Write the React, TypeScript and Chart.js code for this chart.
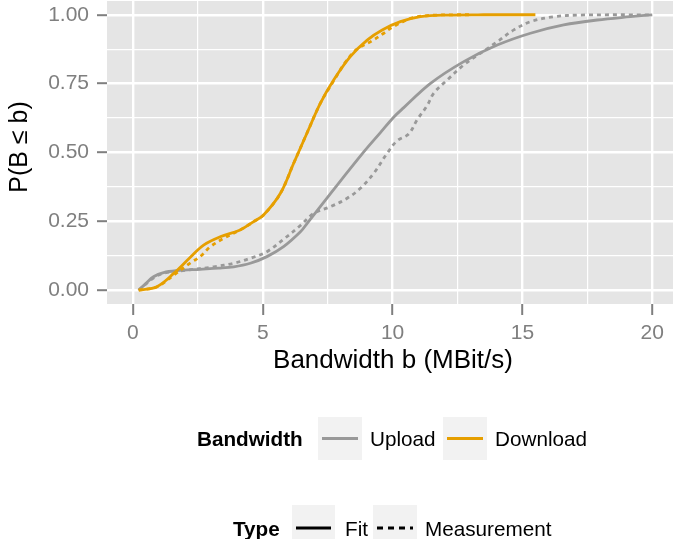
import React, { useEffect, useRef } from "react";
import { Chart, registerables } from "chart.js";
Chart.register(...registerables);

// ---- data ----
const uploadFitX = [0.22, 0.5, 0.79, 1.18, 1.7, 2.59, 3.3, 3.88, 4.52, 5.16, 5.8, 6.45, 6.71, 7.6, 8.89, 9.53, 10.04, 10.43, 11.46, 12.74, 14.03, 15.31, 16.59, 17.88, 19.16, 20.0];
const uploadFitY = [0, 0.025, 0.049, 0.064, 0.071, 0.076, 0.08, 0.085, 0.098, 0.122, 0.158, 0.212, 0.243, 0.35, 0.502, 0.572, 0.628, 0.663, 0.751, 0.83, 0.89, 0.933, 0.963, 0.981, 0.993, 1.0];

const uploadMeasX = [0.22, 0.8, 1.2, 2.0, 3.11, 3.88, 4.52, 5.16, 5.8, 6.45, 6.96, 7.6, 8.25, 8.76, 9.27, 9.79, 10.17, 10.62, 10.94, 11.33, 11.58, 12.1, 12.74, 13.38, 14.03, 14.67, 15.31, 16.21, 17.24, 20.0];
const uploadMeasY = [0, 0.045, 0.062, 0.072, 0.085, 0.098, 0.116, 0.14, 0.185, 0.235, 0.279, 0.303, 0.334, 0.37, 0.424, 0.497, 0.542, 0.567, 0.618, 0.67, 0.715, 0.763, 0.818, 0.86, 0.902, 0.945, 0.975, 0.993, 0.999, 1.0];

const downloadFitX = [0.22, 0.92, 1.57, 2.21, 2.72, 3.36, 4.13, 4.65, 5.03, 5.68, 6.19, 6.7, 7.22, 7.73, 8.37, 9.02, 9.6, 10.3, 11.07, 12.1, 13.5, 15.5];
const downloadFitY = [0, 0.013, 0.061, 0.12, 0.164, 0.194, 0.219, 0.249, 0.273, 0.352, 0.461, 0.57, 0.679, 0.763, 0.848, 0.908, 0.945, 0.975, 0.993, 0.999, 1.0, 1.0];

const downloadMeasX = [0.22, 0.92, 1.57, 2.27, 2.59, 2.98, 3.49, 4.13, 4.65, 5.03, 5.68, 6.19, 6.7, 7.22, 7.73, 8.2, 8.63, 9.2, 9.66, 9.92, 10.4, 10.8, 11.5, 12.5, 13.0];
const downloadMeasY = [0, 0.012, 0.055, 0.103, 0.122, 0.158, 0.188, 0.219, 0.249, 0.273, 0.352, 0.461, 0.57, 0.679, 0.76, 0.83, 0.875, 0.905, 0.933, 0.951, 0.975, 0.99, 0.998, 1.0, 1.0];

const xMajorTicks = [0, 5, 10, 15, 20];
const xMinorTicks = [2.5, 7.5, 12.5, 17.5];
const yMajorTicks = [0, 0.25, 0.5, 0.75, 1.0];
const yMinorTicks = [0.125, 0.375, 0.625, 0.875];

const xTitle = "Bandwidth b (MBit/s)";
const yTitle = "P(B \u2264 b)";
const bandwidthTitle = "Bandwidth";
const bandwidthLabels = ["Upload", "Download"];
const typeTitle = "Type";
const typeLabels = ["Fit", "Measurement"];

const GREY = "#999999";
const ORANGE = "#E69F00";
const FONT = "'Liberation Sans', Arial, Helvetica, sans-serif";

const pts = (xs: number[], ys: number[]) => xs.map((x, i) => ({ x, y: ys[i] }));
const isMajor = (v: number, majors: number[]) => majors.some((m) => Math.abs(m - v) < 1e-9);

export default function App() {
  const ref = useRef<HTMLCanvasElement | null>(null);
  useEffect(() => {
    const canvas = ref.current!;
    const bgPlugin = {
      id: "panelBg",
      beforeDraw(chart: any) {
        const { ctx, chartArea: a } = chart;
        ctx.save();
        ctx.fillStyle = "#E5E5E5";
        ctx.fillRect(a.left, a.top, a.right - a.left, a.bottom - a.top);
        ctx.restore();
      },
    };
    const decoPlugin = {
      id: "deco",
      afterDraw(chart: any) {
        const { ctx } = chart;
        ctx.save();
        // x title
        ctx.fillStyle = "#000";
        ctx.font = `26px ${FONT}`;
        ctx.textAlign = "center";
        ctx.textBaseline = "alphabetic";
        ctx.fillText(xTitle, 393, 368);
        // y title
        ctx.save();
        ctx.translate(27, 147);
        ctx.rotate(-Math.PI / 2);
        ctx.font = `25px ${FONT}`;
        ctx.fillText(yTitle, 0, 0);
        ctx.restore();

        const drawKey = (x: number, y: number, w: number, h: number, color: string, dash: number[]) => {
          ctx.fillStyle = "#F2F2F2";
          ctx.fillRect(x, y, w, h);
          ctx.strokeStyle = color;
          ctx.lineWidth = 2.8;
          ctx.setLineDash(dash);
          ctx.beginPath();
          ctx.moveTo(x + 4, y + h / 2);
          ctx.lineTo(x + w - 4, y + h / 2);
          ctx.stroke();
          ctx.setLineDash([]);
        };
        ctx.textAlign = "left";
        // legend 1
        ctx.fillStyle = "#000";
        ctx.font = `bold 20.7px ${FONT}`;
        ctx.fillText(bandwidthTitle, 197, 446);
        drawKey(318, 417, 44, 43, GREY, []);
        drawKey(443, 417, 44, 43, ORANGE, []);
        ctx.fillStyle = "#000";
        ctx.font = `20.7px ${FONT}`;
        ctx.fillText(bandwidthLabels[0], 370, 446);
        ctx.fillText(bandwidthLabels[1], 495, 446);

        // legend 2
        ctx.font = `bold 20.7px ${FONT}`;
        ctx.fillText(typeTitle, 233, 536);
        drawKey(292, 505, 43, 46, "#000", []);
        drawKey(373, 505, 44, 46, "#000", [6, 5]);
        ctx.fillStyle = "#000";
        ctx.font = `20.7px ${FONT}`;
        ctx.fillText(typeLabels[0], 345, 536);
        ctx.fillText(typeLabels[1], 425, 536);
        ctx.restore();
      },
    };

    const chart = new Chart(canvas, {
      type: "line",
      data: {
        datasets: [
          {
            label: "Download Fit",
            data: pts(downloadFitX, downloadFitY),
            borderColor: ORANGE,
            borderWidth: 2.8,
            order: 0,
          },
          {
            label: "Download Measurement",
            data: pts(downloadMeasX, downloadMeasY),
            borderColor: ORANGE,
            borderWidth: 2.8,
            borderDash: [4, 4],
            order: 1,
          },
          {
            label: "Upload Fit",
            data: pts(uploadFitX, uploadFitY),
            borderColor: GREY,
            borderWidth: 2.8,
            order: 2,
          },
          {
            label: "Upload Measurement",
            data: pts(uploadMeasX, uploadMeasY),
            borderColor: GREY,
            borderWidth: 2.8,
            borderDash: [4, 4],
            order: 3,
          },
        ] as any,
      },
      options: {
        animation: false,
        responsive: false,
        devicePixelRatio: 1,
        layout: { padding: { top: 1, left: 0, right: 0, bottom: 0 } },
        elements: {
          point: { radius: 0 },
          line: { tension: 0.35, cubicInterpolationMode: "default", fill: false },
        },
        plugins: { legend: { display: false }, tooltip: { enabled: false } },
        scales: {
          x: {
            type: "linear",
            min: -1,
            max: 20.8,
            afterBuildTicks: (s: any) => {
              s.ticks = [...xMajorTicks, ...xMinorTicks].sort((a, b) => a - b).map((v) => ({ value: v }));
            },
            afterFit: (s: any) => {
              s.height = 539 - 304;
              s.paddingLeft = 0;
              s.paddingRight = 0;
            },
            border: { display: false },
            grid: {
              color: "#FFFFFF",
              lineWidth: (c: any) => (isMajor(c.tick.value, xMajorTicks) ? 2.4 : 1.2),
              tickColor: (c: any) => (isMajor(c.tick.value, xMajorTicks) ? "#7F7F7F" : "rgba(0,0,0,0)"),
              tickWidth: 2,
              tickLength: 11,
              drawTicks: true,
            },
            ticks: {
              autoSkip: false,
              maxRotation: 0,
              padding: 6,
              color: "#7F7F7F",
              font: { family: FONT, size: 21 },
              callback: (v: any) => (isMajor(Number(v), xMajorTicks) ? String(v) : ""),
            },
          },
          y: {
            type: "linear",
            min: -0.05,
            max: 1.05,
            afterBuildTicks: (s: any) => {
              s.ticks = [...yMajorTicks, ...yMinorTicks].sort((a, b) => a - b).map((v) => ({ value: v }));
            },
            afterFit: (s: any) => {
              s.width = 107;
              s.paddingTop = 0;
              s.paddingBottom = 0;
            },
            border: { display: false },
            grid: {
              color: "#FFFFFF",
              lineWidth: (c: any) => (isMajor(c.tick.value, yMajorTicks) ? 2.4 : 1.2),
              tickColor: (c: any) => (isMajor(c.tick.value, yMajorTicks) ? "#7F7F7F" : "rgba(0,0,0,0)"),
              tickWidth: 2,
              tickLength: 10,
              drawTicks: true,
            },
            ticks: {
              autoSkip: false,
              padding: 8,
              color: "#7F7F7F",
              font: { family: FONT, size: 21 },
              callback: (v: any) => (isMajor(Number(v), yMajorTicks) ? Number(v).toFixed(2) : ""),
            },
          },
        },
      } as any,
      plugins: [bgPlugin, decoPlugin],
    });
    return () => chart.destroy();
  }, []);

  return (
    <div style={{ position: "absolute", left: 0, top: 0, width: 673, height: 539, background: "#fff" }}>
      <canvas ref={ref} width={673} height={539} style={{ display: "block", width: 673, height: 539 }} />
    </div>
  );
}
